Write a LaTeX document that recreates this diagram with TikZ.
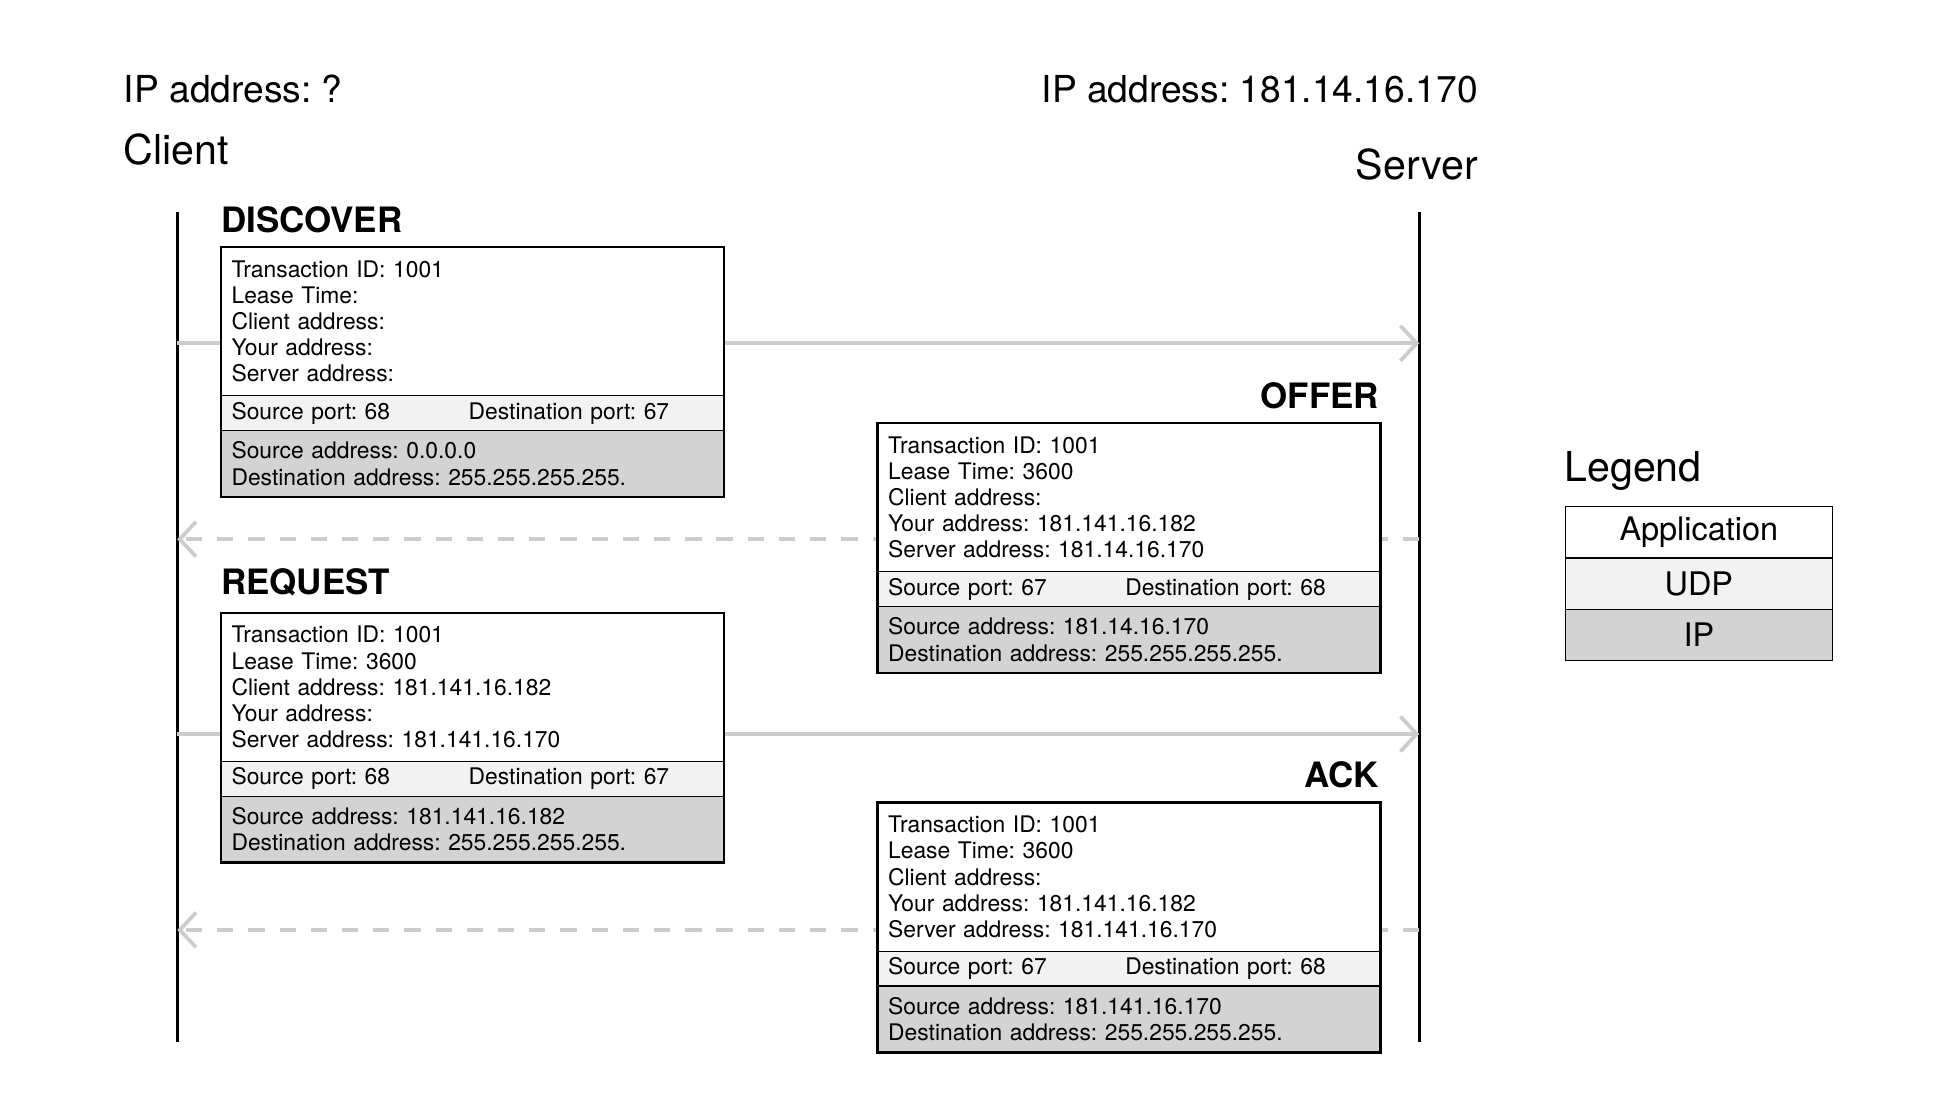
\documentclass[tikz,border=0pt]{standalone}
\usepackage{fontspec}
\setmainfont{TeX Gyre Heros}
\usetikzlibrary{positioning, arrows.meta}
\definecolor{udpgray}{HTML}{F2F2F2}
\definecolor{ipgray}{HTML}{D3D3D3}
\definecolor{msggray}{HTML}{CCCCCC}
\frenchspacing

\begin{document}
\begin{tikzpicture}[x=1pt, y=-1pt, font=\fontsize{18.3}{21}\selectfont]
        % Setup the styles for the packets and the messages
        \tikzset{layer style/.style={draw, line width=1pt,
                                     text width=386pt,
                                     inner xsep=8.5pt, inner ysep=0pt,
                                     outer sep=0pt, align=left},
                 app style/.style={layer style, fill=white, minimum height=119pt},
                 udp style/.style={layer style, fill=udpgray, minimum height=28pt},
                 ip style/.style={layer style, fill=ipgray, minimum height=53pt},
                 title style/.style={inner sep=0pt, font=\fontsize{28}{30}\selectfont\bfseries},
                 role style/.style={inner sep=0pt, font=\fontsize{33}{35}\selectfont},
                 addr style/.style={inner sep=0pt, font=\fontsize{29.8}{32}\selectfont},
                 legend style/.style={draw, line width=1pt, minimum width=214pt,
                                      minimum height=41pt, inner sep=0pt, outer sep=0pt,
                                      font=\fontsize{26}{28}\selectfont},
                 msg style/.style={draw=msggray, line width=3pt,
                                   -{Straight Barb[length=13pt, width=28pt]}},
                 reply style/.style={msg style, dash pattern=on 13pt off 12pt}}

        \useasboundingbox (0,0) rectangle (1567,895.6);

        % Draw the hosts
        \node[addr style, anchor=base west] at (99,82)   (client ip) {IP address: ?};
        \node[addr style, anchor=base east] at (1184,82) (server ip) {IP address: 181.14.16.170};
        \node[role style, anchor=base west] at (99,132)  (client)    {Client};
        \node[role style, anchor=base east] at (1184,144) (server)   {Server};

        % Draw the lifelines
        \coordinate (client top) at (142,170);
        \coordinate (client bottom) at (142,835);
        \coordinate (server top) at (1137,170);
        \coordinate (server bottom) at (1137,835);
        \draw[line width=2pt] (client top) -- (client bottom);
        \draw[line width=2pt] (server top) -- (server bottom);

        % Connect the lifelines with the messages
        \coordinate (c1) at (142,275);  \coordinate (s1) at (1137,275);
        \coordinate (c2) at (142,432);  \coordinate (s2) at (1137,432);
        \coordinate (c3) at (142,588);  \coordinate (s3) at (1137,588);
        \coordinate (c4) at (142,745);  \coordinate (s4) at (1137,745);
        \draw[msg style]   (c1) -- (s1);
        \draw[reply style] (s2) -- (c2);
        \draw[msg style]   (c3) -- (s3);
        \draw[reply style] (s4) -- (c4);

        % Draw the DISCOVER packet
        \node[title style, anchor=base west] at (177,186) (discover) {DISCOVER};
        \node[app style, anchor=north west] at (177,198) (d-app)
            {Transaction ID: 1001\\Lease Time:\\Client address:\\Your address:\\Server address:};
        \node[udp style, below=0pt of d-app] (d-udp)
            {\makebox[190pt][l]{Source port: 68}Destination port: 67};
        \node[ip style, below=0pt of d-udp] (d-ip)
            {Source address: 0.0.0.0\\Destination address: 255.255.255.255.};
        \draw[line width=2pt] (d-app.north west) rectangle (d-ip.south east);

        % Draw the OFFER packet
        \node[title style, anchor=base east] at (1105,327) (offer) {OFFER};
        \node[app style, anchor=north west] at (703,339) (o-app)
            {Transaction ID: 1001\\Lease Time: 3600\\Client address:\\Your address: 181.141.16.182\\Server address: 181.14.16.170};
        \node[udp style, below=0pt of o-app] (o-udp)
            {\makebox[190pt][l]{Source port: 67}Destination port: 68};
        \node[ip style, below=0pt of o-udp] (o-ip)
            {Source address: 181.14.16.170\\Destination address: 255.255.255.255.};
        \draw[line width=2pt] (o-app.north west) rectangle (o-ip.south east);

        % Draw the REQUEST packet
        \node[title style, anchor=base west] at (177,476) (request) {REQUEST};
        \node[app style, anchor=north west] at (177,491) (r-app)
            {Transaction ID: 1001\\Lease Time: 3600\\Client address: 181.141.16.182\\Your address:\\Server address: 181.141.16.170};
        \node[udp style, below=0pt of r-app] (r-udp)
            {\makebox[190pt][l]{Source port: 68}Destination port: 67};
        \node[ip style, below=0pt of r-udp] (r-ip)
            {Source address: 181.141.16.182\\Destination address: 255.255.255.255.};
        \draw[line width=2pt] (r-app.north west) rectangle (r-ip.south east);

        % Draw the ACK packet
        \node[title style, anchor=base east] at (1105,631) (ack) {ACK};
        \node[app style, anchor=north west] at (703,643) (a-app)
            {Transaction ID: 1001\\Lease Time: 3600\\Client address:\\Your address: 181.141.16.182\\Server address: 181.141.16.170};
        \node[udp style, below=0pt of a-app] (a-udp)
            {\makebox[190pt][l]{Source port: 67}Destination port: 68};
        \node[ip style, below=0pt of a-udp] (a-ip)
            {Source address: 181.141.16.170\\Destination address: 255.255.255.255.};
        \draw[line width=2pt] (a-app.north west) rectangle (a-ip.south east);

        % Draw the legend
        \node[role style, anchor=base west] at (1253,386) (legend) {Legend};
        \node[legend style, fill=white, anchor=north west] at (1254,406) (l-app) {Application};
        \node[legend style, fill=udpgray, below=0pt of l-app] (l-udp) {UDP};
        \node[legend style, fill=ipgray, below=0pt of l-udp] (l-ip) {IP};
    \end{tikzpicture}
\end{document}
